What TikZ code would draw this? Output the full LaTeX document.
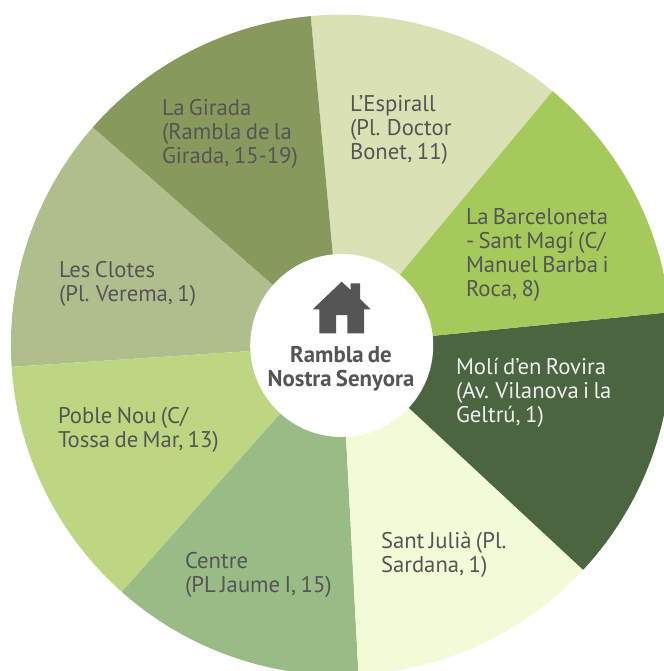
\documentclass[tikz,border=0pt]{standalone}
\usepackage{fontspec}
\setmainfont[WordSpace=0.72]{PT Sans}
\definecolor{cGirada}{HTML}{88995E}
\definecolor{cEspirall}{HTML}{D9E1B5}
\definecolor{cBarna}{HTML}{A5C95B}
\definecolor{cMoli}{HTML}{4B6541}
\definecolor{cJulia}{HTML}{F1FBD8}
\definecolor{cCentre}{HTML}{99BB85}
\definecolor{cPoble}{HTML}{BDD681}
\definecolor{cClotes}{HTML}{B0BE8D}
\definecolor{ctext}{HTML}{555555}
\tikzset{
  lbl/.style={anchor=north west,inner sep=0pt,outer sep=0pt,align=left,text=ctext,
    font=\fontsize{22.7bp}{24bp}\selectfont},
  ctr/.style={anchor=center,inner sep=0pt,outer sep=0pt,align=center,text=ctext,
    font=\fontsize{22.8bp}{24bp}\selectfont\bfseries},
}
\begin{document}
\begin{tikzpicture}[x=1bp,y=-1bp]
\useasboundingbox (0,0) rectangle (664,671);
\begin{scope}
\clip (0,0) rectangle (664,671);
\def\cx{341.2}\def\cy{345}
\foreach \col/\a/\b in {cEspirall/50.2/95.3,cGirada/95.3/138.8,cClotes/138.8/183.8,cPoble/183.8/228.4,cCentre/228.4/273,cJulia/273/317.1,cMoli/317.1/365.7,cBarna/365.7/410.2}{
  \fill[\col] (\cx,\cy) -- ({\cx+330.3*cos(\a)},{\cy-330.3*sin(\a)})
     arc[start angle=-\a,end angle=-\b,radius=330.3] -- cycle;
}
\end{scope}
\fill[white] (341.7,345.5) circle[radius=91.5];
\fill[ctext] (341.7,281.7) -- (350.7,290) -- (350.7,283.3) -- (360,283.3) -- (360,299) -- (370.7,309.3) -- (364,309.3) -- (364,333.3) -- (347.3,333.3) -- (347.3,315) -- (336,315) -- (336,333.3) -- (319.3,333.3) -- (319.3,309.3) -- (312.7,309.3) -- cycle;
\node[ctr] (center) at (341,368.5) {Rambla de\\Nostra Senyora};
\node[lbl] (girada) at (162,99) {La Girada\\(Rambla de la\\Girada, 15-19)};
\node[lbl] (espirall) at (350,95) {L’Espirall\\(Pl. Doctor\\Bonet, 11)};
\node[lbl] (barna) at (466,208) {La Barceloneta\\- Sant Magí (C/\\Manuel Barba i\\Roca, 8)};
\node[lbl] (clotes) at (59,261) {Les Clotes\\(Pl. Verema, 1)};
\node[lbl,text=white!90!ctext] (moli) at (456,358) {Molí d’en Rovira\\(Av. Vilanova i la\\Geltrú, 1)};
\node[lbl] (poble) at (58,407) {Poble Nou (C/\\Tossa de Mar, 13)};
\node[lbl] (julia) at (381,532) {Sant Julià (Pl.\\Sardana, 1)};
\node[lbl] (centre) at (185,552) {Centre\\(PL Jaume I, 15)};
\end{tikzpicture}
\end{document}
